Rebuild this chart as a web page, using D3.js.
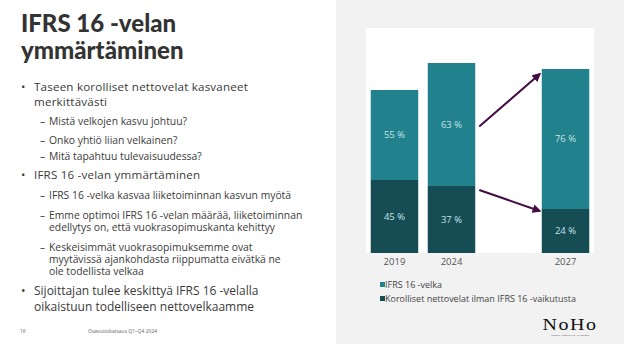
<!DOCTYPE html>
<html><head><meta charset="utf-8">
<script src="https://cdn.jsdelivr.net/npm/d3@7"></script>
<style>body{margin:0;background:#fff}svg{display:block}</style>
</head><body>
<svg id="c" width="624" height="344"></svg>
<script>
// ---- data ----
const categories = ["2019", "2024", "", "2027"];
const years = ["2019", "2024", "2027"];
// relative amounts
const ifrsDebt = [90, 123, 140];        // IFRS 16 -velka
const netDebt = [73, 67, 44];           // Korolliset nettovelat ilman IFRS 16 -vaikutusta
const ifrsPct = ["55 %", "63 %", "76 %"];
const netPct = ["45 %", "37 %", "24 %"];
const legendLabels = ["IFRS 16 -velka", "Korolliset nettovelat ilman IFRS 16 -vaikutusta"];

const svg = d3.select("#c");
const FONT = "'Open Sans', 'Noto Sans', sans-serif";
const TFONT = "Lato, 'Noto Sans', sans-serif";
const cTop = "#21818c", cBot = "#164c54", cArrow = "#420d44";

// ---- left text ----
svg.append("text").attr("x", 21).attr("y", 32).attr("font-family", TFONT).attr("font-weight", 900)
  .attr("font-size", 24).attr("fill", "#333").text("IFRS 16 -velan");
svg.append("text").attr("x", 21).attr("y", 59).attr("font-family", TFONT).attr("font-weight", 900)
  .attr("font-size", 24).attr("fill", "#333").text("ymmärtäminen");

const M = 11.6, S = 10.35, L = 12;
const lines = [
  {t:"•", x:21, y:91, s:M, ls:0},
  {t:"Taseen korolliset nettovelat kasvaneet", x:34, y:91, s:M, ls:0.2},
  {t:"merkittävästi", x:34, y:105.5, s:M, ls:0.2},
  {t:"–", x:40, y:125, s:S, ls:0},
  {t:"Mistä velkojen kasvu johtuu?", x:49, y:125, s:S, ls:0},
  {t:"–", x:40, y:143.5, s:S, ls:0},
  {t:"Onko yhtiö liian velkainen?", x:49, y:143.5, s:S, ls:0},
  {t:"–", x:40, y:160, s:S, ls:0},
  {t:"Mitä tapahtuu tulevaisuudessa?", x:49, y:160, s:S, ls:0},
  {t:"•", x:21, y:179, s:M, ls:0},
  {t:"IFRS 16 -velan ymmärtäminen", x:34, y:179, s:M, ls:0.2},
  {t:"–", x:40, y:198.5, s:S, ls:0},
  {t:"IFRS 16 -velka kasvaa liiketoiminnan kasvun myötä", x:49, y:198.5, s:S, ls:0},
  {t:"–", x:40, y:218.5, s:S, ls:0},
  {t:"Emme optimoi IFRS 16 -velan määrää, liiketoiminnan", x:49, y:218.5, s:S, ls:0},
  {t:"edellytys on, että vuokrasopimuskanta kehittyy", x:49, y:231, s:S, ls:0},
  {t:"–", x:40, y:251, s:S, ls:0},
  {t:"Keskeisimmät vuokrasopimuksemme ovat", x:49, y:251, s:S, ls:0},
  {t:"myytävissä ajankohdasta riippumatta eivätkä ne", x:49, y:263, s:S, ls:0},
  {t:"ole todellista velkaa", x:49, y:275, s:S, ls:0},
  {t:"•", x:21, y:295, s:L, ls:0},
  {t:"Sijoittajan tulee keskittyä IFRS 16 -velalla", x:34, y:295, s:L, ls:0},
  {t:"oikaistuun todelliseen nettovelkaamme", x:34, y:310.5, s:L, ls:0}
];
svg.append("g").selectAll("text").data(lines).join("text")
  .attr("x", d => d.x).attr("y", d => d.y).attr("font-family", FONT)
  .attr("font-size", d => d.s).attr("letter-spacing", d => d.ls).attr("fill", "#3a3a3a").text(d => d.t);

svg.append("text").attr("x", 20).attr("y", 333).attr("font-family", FONT).attr("font-size", 5)
  .attr("fill", "#666").text("16");
svg.append("text").attr("x", 88).attr("y", 333).attr("font-family", FONT).attr("font-size", 5)
  .attr("fill", "#666").text("Osavuosikatsaus Q1–Q4 2024");

// ---- right panel ----
svg.append("rect").attr("x", 336).attr("y", 0).attr("width", 288).attr("height", 344).attr("fill", "#f2f2f2");
const plot = {l: 366, r: 594, t: 28, b: 253};
svg.append("rect").attr("x", plot.l).attr("y", plot.t).attr("width", plot.r - plot.l)
  .attr("height", plot.b - plot.t).attr("fill", "#fff");

const x = d3.scaleBand().domain(categories).range([plot.l, plot.r]).paddingInner(0.167).paddingOuter(0.083);
const y = d3.scaleLinear().domain([0, 225]).range([plot.b, plot.t]);

const rows = years.map((yr, i) => ({yr, a: netDebt[i], b: ifrsDebt[i], pa: netPct[i], pb: ifrsPct[i]}));
const g = svg.append("g");
g.selectAll(".bot").data(rows).join("rect")
  .attr("x", d => x(d.yr)).attr("width", x.bandwidth())
  .attr("y", d => y(d.a)).attr("height", d => y(0) - y(d.a)).attr("fill", cBot);
g.selectAll(".top").data(rows).join("rect")
  .attr("x", d => x(d.yr)).attr("width", x.bandwidth())
  .attr("y", d => y(d.a + d.b)).attr("height", d => y(d.a) - y(d.a + d.b)).attr("fill", cTop);

const lab = (v0, v1) => (y(v0) + y(v1)) / 2;
g.selectAll(".lb").data(rows).join("text")
  .attr("x", d => x(d.yr) + x.bandwidth() / 2).attr("y", d => lab(0, d.a))
  .attr("dy", "0.35em").attr("text-anchor", "middle").attr("font-family", FONT)
  .attr("font-size", 9.5).attr("fill", "#c4e3e5").text(d => d.pa);
g.selectAll(".lt").data(rows).join("text")
  .attr("x", d => x(d.yr) + x.bandwidth() / 2).attr("y", d => lab(d.a, d.a + d.b))
  .attr("dy", "0.35em").attr("text-anchor", "middle").attr("font-family", FONT)
  .attr("font-size", 9.5).attr("fill", "#c4e3e5").text(d => d.pb);

// x axis labels
const xAxis = d3.axisBottom(x).tickSize(0).tickPadding(5).tickFormat(d => d);
const ax = svg.append("g").attr("transform", `translate(0,${plot.b})`).call(xAxis);
ax.select(".domain").remove();
ax.selectAll("text").attr("font-family", FONT).attr("font-size", 9.5).attr("fill", "#555");

// arrows
const defs = svg.append("defs");
defs.append("marker").attr("id", "ah").attr("viewBox", "0 0 10 10").attr("refX", 8).attr("refY", 5)
  .attr("markerWidth", 4.5).attr("markerHeight", 4.5).attr("orient", "auto")
  .append("path").attr("d", "M0,0 L10,5 L0,10 z").attr("fill", cArrow);
const r24 = rows[1], r27 = rows[2];
const x0 = x("2024") + x.bandwidth() + 4, x1 = x("2027") - 2;
const arrows = [
  {y0: lab(r24.a, r24.a + r24.b) + 2, y1: y(r27.a + r27.b) + 5},
  {y0: y(r24.a) + 4, y1: y(r27.a) + 2}
];
svg.append("g").selectAll("line").data(arrows).join("line")
  .attr("x1", x0).attr("y1", d => d.y0).attr("x2", x1).attr("y2", d => d.y1)
  .attr("stroke", cArrow).attr("stroke-width", 2).attr("marker-end", "url(#ah)");

// legend
const lg = svg.append("g").selectAll("g").data(legendLabels).join("g")
  .attr("transform", (d, i) => `translate(380,${285 + i * 14})`);
lg.append("rect").attr("x", 0).attr("y", -3).attr("width", 5).attr("height", 5)
  .attr("fill", (d, i) => i === 0 ? cTop : cBot);
lg.append("text").attr("x", 5).attr("y", 0).attr("dy", "0.35em").attr("font-family", FONT)
  .attr("font-size", 9).attr("fill", "#444").text(d => d);

// logo
svg.append("text").attr("transform", "translate(570,330) scale(1.25,1)").attr("text-anchor", "middle")
  .attr("font-family", "'Liberation Serif', 'DejaVu Serif', serif").attr("font-size", 16)
  .attr("letter-spacing", 1.2).attr("fill", "#111").text("NoHo");
svg.append("text").attr("x", 570).attr("y", 336).attr("text-anchor", "middle")
  .attr("font-family", FONT).attr("font-size", 2.5).attr("fill", "#555").text("NORDIC HOSPITALITY PARTNERS");
</script>
</body></html>
